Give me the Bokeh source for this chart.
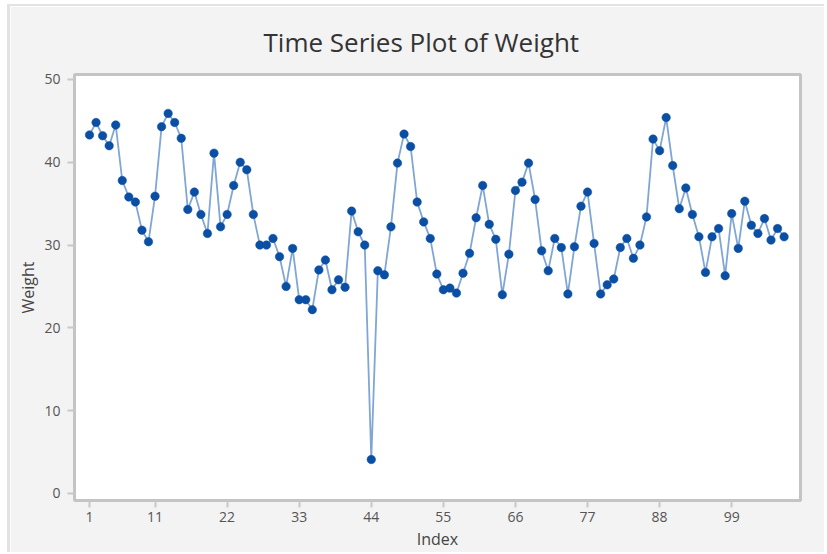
from bokeh.plotting import figure
from bokeh.models import FixedTicker, Range1d, Title
from bokeh.embed import file_html
from bokeh.resources import INLINE

weight = [43.3, 44.8, 43.2, 42.0, 44.5, 37.8, 35.8, 35.2, 31.8, 30.4,
          35.9, 44.3, 45.9, 44.8, 42.9, 34.3, 36.4, 33.7, 31.4, 41.1,
          32.2, 33.7, 37.2, 40.0, 39.1, 33.7, 30.0, 30.0, 30.8, 28.6,
          25.0, 29.6, 23.4, 23.4, 22.2, 27.0, 28.2, 24.6, 25.8, 24.9,
          34.1, 31.6, 30.0, 4.1, 26.9, 26.4, 32.2, 39.9, 43.4, 41.9,
          35.2, 32.8, 30.8, 26.5, 24.6, 24.8, 24.2, 26.6, 29.0, 33.3,
          37.2, 32.5, 30.7, 24.0, 28.9, 36.6, 37.6, 39.9, 35.5, 29.3,
          26.9, 30.8, 29.7, 24.1, 29.8, 34.7, 36.4, 30.2, 24.1, 25.2,
          25.9, 29.7, 30.8, 28.4, 30.0, 33.4, 42.8, 41.4, 45.4, 39.6,
          34.4, 36.9, 33.7, 31.0, 26.7, 31.0, 32.0, 26.3, 33.8, 29.6,
          35.3, 32.4, 31.4, 33.2, 30.6, 32.0, 31.0]
index = list(range(1, len(weight) + 1))
x_ticks = [1, 11, 22, 33, 44, 55, 66, 77, 88, 99]
y_ticks = [0, 10, 20, 30, 40, 50]

FONT = "Open Sans"

p = figure(width=817, height=548, output_backend="svg", toolbar_location=None,
           x_range=Range1d(-1.29, 109.5), y_range=Range1d(-0.85, 50.6),
           min_border_left=64, min_border_right=27, min_border_top=68,
           min_border_bottom=54)
p.styles = {"margin-left": "7px", "margin-top": "4px",
            "border-left": "3px solid #e3e3e3", "border-top": "2px solid #e3e3e3"}
p.title = None
t = Title(text="Time Series Plot of Weight", align="left", offset=189,
          text_font=FONT, text_font_size="26px", text_font_style="normal",
          text_color="#333333", standoff=29)
p.add_layout(t, "above")

p.background_fill_color = "white"
p.border_fill_color = "#f3f3f3"
p.outline_line_color = "#c4c4c4"
p.outline_line_width = 3
p.grid.visible = False

for ax in (p.xaxis[0], p.yaxis[0]):
    ax.axis_line_color = None
    ax.major_tick_line_color = "#c8c8c8"
    ax.major_tick_line_width = 2
    ax.major_tick_in = 0
    ax.major_tick_out = 7
    ax.minor_tick_line_color = None
    ax.major_label_text_font = FONT
    ax.major_label_text_font_size = "14px"
    ax.major_label_text_color = "#555555"
    ax.axis_label_text_font = FONT
    ax.axis_label_text_font_size = "16px"
    ax.axis_label_text_font_style = "normal"
    ax.axis_label_text_color = "#444444"

p.xaxis[0].ticker = FixedTicker(ticks=x_ticks)
p.yaxis[0].ticker = FixedTicker(ticks=y_ticks)
p.xaxis[0].axis_label = "Index"
p.yaxis[0].axis_label = "Weight"
p.xaxis[0].major_label_standoff = 4
p.xaxis[0].axis_label_standoff = 3
p.yaxis[0].major_label_standoff = 7
p.yaxis[0].axis_label_standoff = 2

p.line(index, weight, line_color="#7fa6d6", line_width=1.8)
p.scatter(index, weight, marker="circle", size=8.5, fill_color="#0a4fa3",
          line_color="#0a4fa3", line_width=0.5)

open("out.html", "w").write(file_html(p, INLINE))
